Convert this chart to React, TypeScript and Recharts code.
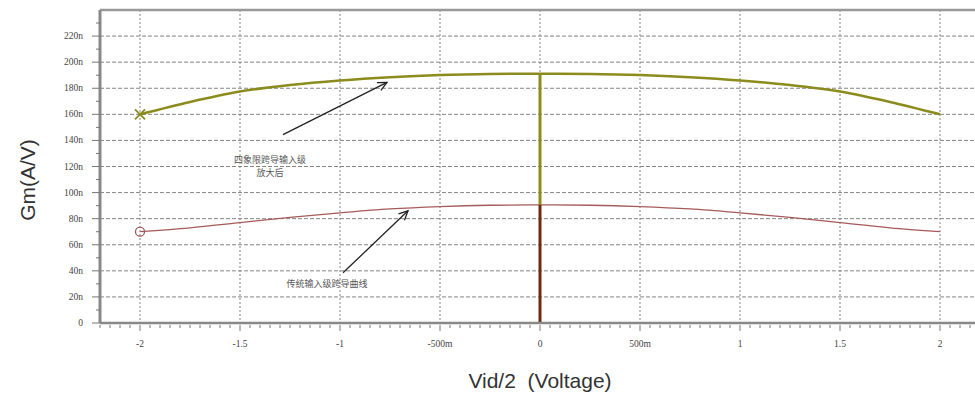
import { CartesianGrid, Line, LineChart, ReferenceLine, XAxis, YAxis } from "recharts";

const VOLTS = [-2, -1.75, -1.5, -1.25, -1, -0.75, -0.5, -0.25, 0, 0.25, 0.5, 0.75, 1, 1.25, 1.5, 1.75, 2];
// Gm in nA/V
const GM_AMPLIFIED = [160, 169.5, 177.5, 182.5, 186, 188.5, 190.2, 191, 191.2, 191, 190.2, 188.5, 186, 182.5, 177.5, 169.5, 160];
const GM_ORIGINAL = [70, 73, 77, 81, 84.5, 87.5, 89.3, 90.3, 90.6, 90.3, 89.3, 87.5, 84.5, 81, 77, 73, 70];

const X_MAJOR = [-2, -1.5, -1, -0.5, 0, 0.5, 1, 1.5, 2];
const X_LABELS = ["-2", "-1.5", "-1", "-500m", "0", "500m", "1", "1.5", "2"];
const Y_MAJOR = [0, 20, 40, 60, 80, 100, 120, 140, 160, 180, 200, 220];
const Y_LABELS = ["0", "20n", "40n", "60n", "80n", "100n", "120n", "140n", "160n", "180n", "200n", "220n"];

const LABEL_TOP = ["四象限跨导输入级", "放大后"];
const LABEL_BOTTOM = "传统输入级跨导曲线";

const X_MINOR = Array.from({ length: 88 }, (_, i) => Math.round((-2.2 + i * 0.05) * 100) / 100);
const Y_MINOR = Array.from({ length: 24 }, (_, i) => i * 10);

const data = VOLTS.map((v, i) => ({ v, amp: GM_AMPLIFIED[i], orig: GM_ORIGINAL[i] }));
const mid = VOLTS.indexOf(0);

const OLIVE = "#8c8c1e";
const BROWN = "#a65a5a";
const DARK_BROWN = "#6e2a12";
const GRID = "#858585";

const isMajor = (list: number[], v: number) => list.findIndex((m) => Math.abs(m - v) < 1e-6);

function XTick(props: any) {
  const { x, y, payload } = props;
  const idx = isMajor(X_MAJOR, payload.value);
  return (
    <g>
      <line x1={x} x2={x} y1={y + 2} y2={y + (idx >= 0 ? 8 : 5)} stroke="#777" strokeWidth={1} />
      {idx >= 0 && (
        <text x={x} y={y + 24} textAnchor="middle" fontSize={9.5} fill="#444" fontFamily="Liberation Serif">
          {X_LABELS[idx]}
        </text>
      )}
    </g>
  );
}

function YTick(props: any) {
  const { x, y, payload } = props;
  const idx = isMajor(Y_MAJOR, payload.value);
  return (
    <g>
      <line x1={x - (idx >= 0 ? 8 : 4)} x2={x} y1={y} y2={y} stroke="#777" strokeWidth={1} />
      {idx >= 0 && (
        <text x={x - 17} y={y + 3} textAnchor="end" fontSize={9.5} fill="#444" fontFamily="Liberation Serif">
          {Y_LABELS[idx]}
        </text>
      )}
    </g>
  );
}

function Arrow(props: any) {
  const { x1, y1, x2, y2 } = props;
  const a = Math.atan2(y2 - y1, x2 - x1);
  const len = 10;
  const w = 0.45;
  const p1 = `${x2 - len * Math.cos(a - w)},${y2 - len * Math.sin(a - w)}`;
  const p2 = `${x2 - len * Math.cos(a + w)},${y2 - len * Math.sin(a + w)}`;
  return (
    <g>
      <line x1={x1} y1={y1} x2={x2} y2={y2} stroke="#222" strokeWidth={1.3} />
      <polyline points={`${p1} ${x2},${y2} ${p2}`} fill="none" stroke="#222" strokeWidth={1.3} />
    </g>
  );
}

function AmpDot(props: any) {
  const { cx, cy, index } = props;
  if (index !== 0) return <g key={`a${index}`} />;
  return (
    <g key="a0" stroke={OLIVE} strokeWidth={1.8}>
      <line x1={cx - 5} y1={cy - 5} x2={cx + 5} y2={cy + 5} />
      <line x1={cx - 5} y1={cy + 5} x2={cx + 5} y2={cy - 5} />
    </g>
  );
}

function OrigDot(props: any) {
  const { cx, cy, index } = props;
  if (index !== 0) return <g key={`o${index}`} />;
  return <circle key="o0" cx={cx} cy={cy} r={4.5} fill="none" stroke={BROWN} strokeWidth={1.3} />;
}

export default function App() {
  return (
    <div style={{ position: "absolute", left: 0, top: 0, width: 975, height: 397, background: "#fff", overflow: "hidden" }}>
      <LineChart width={975} height={397} data={data} margin={{ top: 10, right: 0, bottom: 0, left: 0 }}>
        <CartesianGrid
          stroke={GRID}
          strokeDasharray="4 2"
          vertical={false}
          horizontalValues={Y_MAJOR.slice(1)}
        />
        <CartesianGrid
          stroke={GRID}
          strokeDasharray="2 2"
          horizontal={false}
          verticalValues={X_MAJOR}
        />
        <XAxis
          dataKey="v"
          type="number"
          domain={[-2.2, 2.175]}
          ticks={X_MINOR}
          interval={0}
          allowDataOverflow
          height={74}
          tickSize={0}
          tickMargin={0}
          tick={<XTick />}
          axisLine={{ stroke: "#888", strokeWidth: 2.5 }}
          tickLine={false}
        />
        <YAxis
          type="number"
          domain={[0, 240]}
          ticks={Y_MINOR}
          interval={0}
          allowDataOverflow
          width={100}
          tickSize={0}
          tickMargin={0}
          tick={<YTick />}
          axisLine={{ stroke: "#888", strokeWidth: 3 }}
          tickLine={false}
        />
        <ReferenceLine y={240} stroke="#999" strokeWidth={2.5} ifOverflow="visible" />
        <Line
          dataKey="amp"
          type="monotone"
          stroke={OLIVE}
          strokeWidth={2.5}
          dot={<AmpDot />}
          activeDot={false}
          isAnimationActive={false}
        />
        <Line
          dataKey="orig"
          type="monotone"
          stroke={BROWN}
          strokeWidth={1.3}
          dot={<OrigDot />}
          activeDot={false}
          isAnimationActive={false}
        />
        <ReferenceLine
          segment={[{ x: 0, y: GM_AMPLIFIED[mid] }, { x: 0, y: GM_ORIGINAL[mid] }]}
          stroke={OLIVE}
          strokeWidth={3}
        />
        <ReferenceLine
          segment={[{ x: 0, y: GM_ORIGINAL[mid] }, { x: 0, y: 0 }]}
          stroke={DARK_BROWN}
          strokeWidth={3}
        />
        <ReferenceLine
          segment={[{ x: -1.285, y: 144.5 }, { x: -0.765, y: 184.5 }]}
          shape={(p: any) => <Arrow {...p} />}
        />
        <ReferenceLine
          segment={[{ x: -0.985, y: 38.5 }, { x: -0.66, y: 86 }]}
          shape={(p: any) => <Arrow {...p} />}
        />
      </LineChart>
      <div style={{ position: "absolute", left: 205, top: 153, width: 130, textAlign: "center", fontSize: 9, lineHeight: "13px", color: "#555", fontFamily: "Noto Sans CJK SC" }}>
        <div>{LABEL_TOP[0]}</div>
        <div>{LABEL_TOP[1]}</div>
      </div>
      <div style={{ position: "absolute", left: 262, top: 277, width: 130, textAlign: "center", fontSize: 9, lineHeight: "13px", color: "#555", fontFamily: "Noto Sans CJK SC" }}>
        {LABEL_BOTTOM}
      </div>
      <div style={{ position: "absolute", left: 28, top: 180, transform: "translate(-50%, -50%) rotate(-90deg)", fontSize: 21, color: "#333", fontFamily: "Liberation Sans", whiteSpace: "nowrap" }}>
        Gm(A/V)
      </div>
      <div style={{ position: "absolute", left: 540, top: 381, transform: "translate(-50%, -50%)", fontSize: 21, color: "#333", fontFamily: "Liberation Sans", whiteSpace: "pre" }}>
        Vid/2  (Voltage)
      </div>
    </div>
  );
}
